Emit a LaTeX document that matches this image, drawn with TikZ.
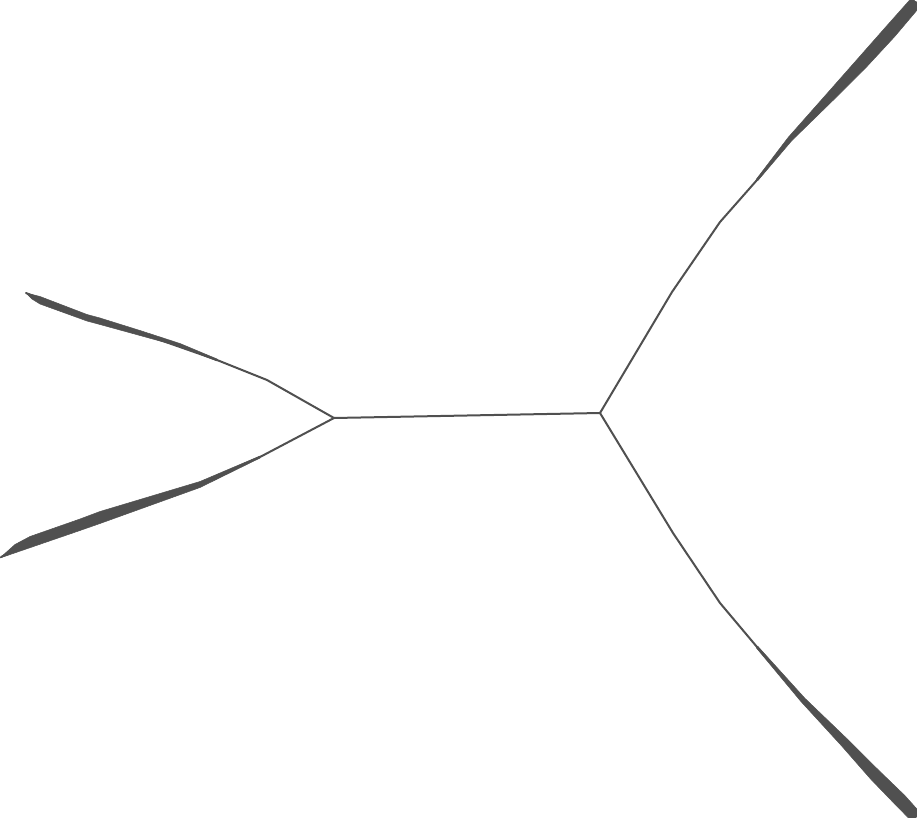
\documentclass[tikz,border=0pt]{standalone}
\usetikzlibrary{positioning,calc}
\definecolor{treegray}{HTML}{505050}

\begin{document}
\begin{tikzpicture}[x=1pt,y=-1pt,
    branch/.style={draw=treegray,line width=2pt,line join=round,line cap=round},
% thick bundle of leaves at each tip
    bundle/.style={fill=treegray,draw=treegray,line width=0.5pt,line join=round}
    ]
\useasboundingbox (0,0) rectangle (917,818);
% inner nodes
\coordinate (inleft) at (334,418);
\coordinate (inright) at (600,413);
% leaves
\coordinate (leafnw) at (26,293);
\coordinate (leafsw) at (1,557);
\coordinate (leafne) at (916,2);
\coordinate (leafse) at (916,817);

\draw [branch] (inleft) -- (inright);
\draw [branch] (inleft) -- (267,380) -- (217,360) -- (140,333) -- (87,317) -- (leafnw);
\draw [branch] (inleft) -- (260,457) -- (200,484) -- (100,517) -- (33,541) -- (leafsw);
\draw [branch] (inright) -- (672,292) -- (720,222) -- (757,180) -- (790,139) -- (830,97) -- (862,63) -- (leafne);
\draw [branch] (inright) -- (673,533) -- (720,603) -- (757,647) -- (803,700) -- (845,743) -- (875,775) -- (leafse);

\fill [bundle] (217,359) -- (180,343.5) -- (140,330.5) -- (100,318) -- (87,314.5) -- (40,296.5) -- (leafnw)
  -- (32,299) -- (40,304) -- (87,321) -- (100,324.5) -- (140,335.5) -- (180,346.5) -- (217,361) -- cycle;
\fill [bundle] (260,456) -- (200,481.5) -- (150,496.5) -- (100,511.5) -- (80,519) -- (30,536.5) -- (15,544.5) -- (leafsw)
  -- (0,558) -- (80,530.5) -- (100,523.5) -- (150,505.5) -- (200,487.5) -- (260,458) -- cycle;
\fill [bundle] (756.2,179.4) -- (788.2,137.4) -- (826.7,93.9) -- (857.5,59.0) -- (885.1,27.7) -- (911.5,-2)
  -- (920.5,6) -- (894.9,36.3) -- (866.5,67.0) -- (833.3,100.1) -- (791.8,140.6) -- (757.8,180.6) -- cycle;
\fill [bundle] (757.8,646.3) -- (804.9,698.3) -- (848.2,739.9) -- (879.3,770.9) -- (904.7,795.4) -- (920.3,812.8)
  -- (911.7,821.2) -- (895.3,804.6) -- (870.7,779.1) -- (841.8,746.1) -- (801.1,701.7) -- (756.2,647.7) -- cycle;
\end{tikzpicture}
\end{document}
